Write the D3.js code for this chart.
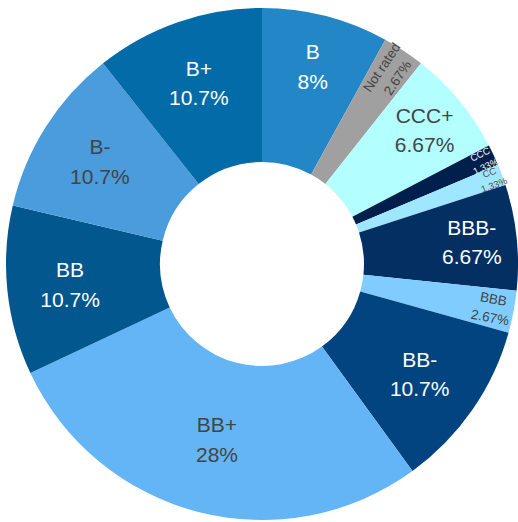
<!DOCTYPE html>
<html>
<head>
<meta charset="utf-8">
<script src="https://cdn.jsdelivr.net/npm/d3@7"></script>
<style>
  body { margin: 0; background: #fff; }
  text { font-family: "Liberation Sans", Arial, sans-serif; }
</style>
</head>
<body>
<svg id="chart" width="518" height="522"></svg>
<script>
// ratings, clockwise from 12 o'clock
const ratings = ["B", "Not rated", "CCC+", "CCC", "CC", "BBB-", "BBB", "BB-", "BB+", "BB", "B-", "B+"];
const counts = [6, 2, 5, 1, 1, 5, 2, 8, 21, 8, 8, 8];
const pctLabels = ["8%", "2.67%", "6.67%", "1.33%", "1.33%", "6.67%", "2.67%", "10.7%", "28%", "10.7%", "10.7%", "10.7%"];

const colors = ["#2387c7", "#a0a0a0", "#b3ffff", "#011f4c", "#9fe6ff", "#032f62",
                "#80ccff", "#02447f", "#64b5f6", "#02578f", "#4a9cdc", "#036ba8"];
const textColors = ["#fff", "#444", "#444", "#fff", "#555", "#fff",
                    "#444", "#fff", "#444", "#fff", "#444", "#fff"];
// label layout per slice: radius, font size, rotate radially?
const labelR = [204, 230, 211, 244, 245, 211, 234, 192, 181, 193, 192, 192];
const fontSz = [21, 13.5, 21, 9.5, 9.5, 21, 13.5, 21, 21, 21, 21, 21];
const radial = [false, true, false, true, true, false, true, false, false, false, false, false];

let svg = d3.select("#chart"),
    cx = 262, cy = 264,
    outerR = 256, innerR = 102,
    g = svg.append("g").attr("transform", "translate(" + cx + "," + cy + ")");

let pie = d3.pie().sort(null).value(d => d);
let arc = d3.arc().innerRadius(innerR).outerRadius(outerR);

let arcs = g.selectAll(".arc")
    .data(pie(counts))
    .enter().append("g")
    .attr("class", "arc");

arcs.append("path")
    .attr("fill", (d, i) => colors[i])
    .attr("d", arc);

// labels
arcs.each(function(d, i) {
  let mid = (d.startAngle + d.endAngle) / 2;
  let r = labelR[i];
  let x = r * Math.sin(mid), y = -r * Math.cos(mid);
  let rot = radial[i] ? (mid * 180 / Math.PI - 90) : 0;
  let fs = fontSz[i];
  let t = d3.select(this).append("text")
      .attr("transform", "translate(" + x + "," + y + ") rotate(" + rot + ")")
      .attr("text-anchor", "middle")
      .attr("fill", textColors[i])
      .style("font-size", fs + "px");
  t.append("tspan").attr("x", 0).attr("y", -0.33 * fs).text(ratings[i]);
  t.append("tspan").attr("x", 0).attr("y", 1.07 * fs).text(pctLabels[i]);
});
</script>
</body>
</html>
